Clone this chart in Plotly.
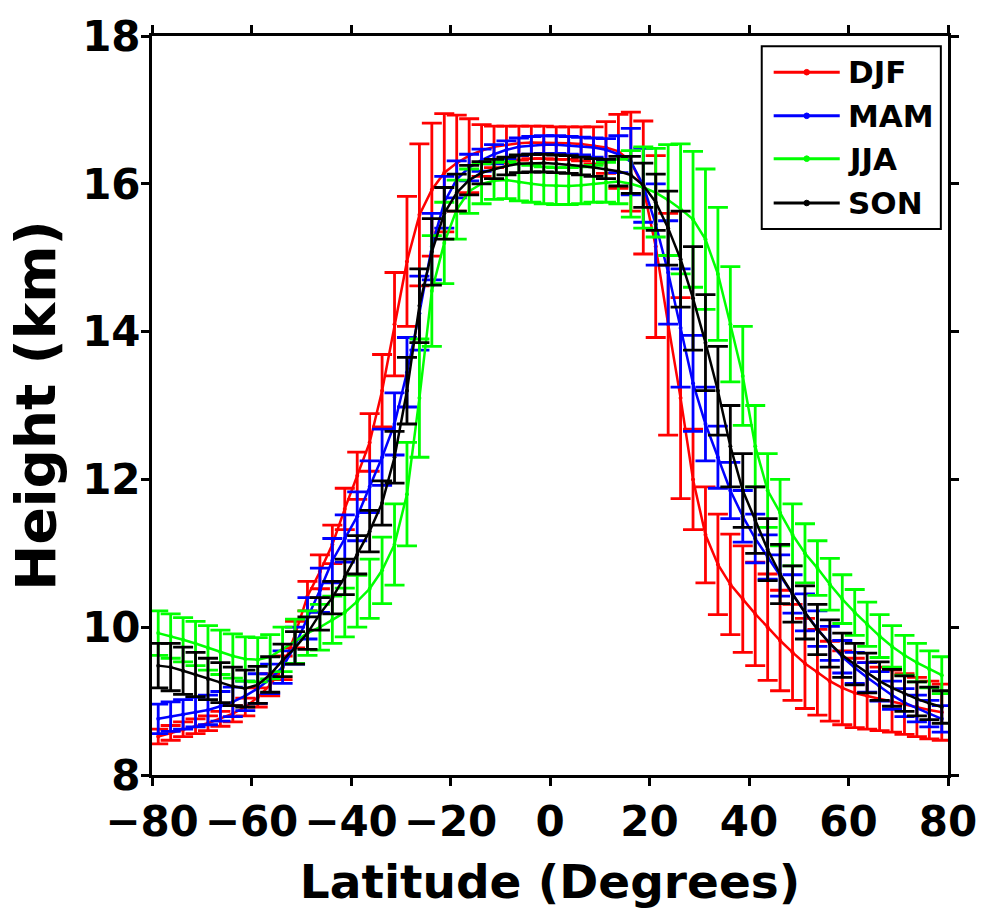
import plotly.graph_objects as go

latitude = [-78.75, -76.25, -73.75, -71.25, -68.75, -66.25, -63.75, -61.25, -58.75, -56.25,
            -53.75, -51.25, -48.75, -46.25, -43.75, -41.25, -38.75, -36.25, -33.75, -31.25,
            -28.75, -26.25, -23.75, -21.25, -18.75, -16.25, -13.75, -11.25, -8.75, -6.25,
            -3.75, -1.25, 1.25, 3.75, 6.25, 8.75, 11.25, 13.75, 16.25, 18.75,
            21.25, 23.75, 26.25, 28.75, 31.25, 33.75, 36.25, 38.75, 41.25, 43.75,
            46.25, 48.75, 51.25, 53.75, 56.25, 58.75, 61.25, 63.75, 66.25, 68.75,
            71.25, 73.75, 76.25, 78.75]

djf = [8.52, 8.57, 8.62, 8.66, 8.70, 8.76, 8.83, 8.92, 9.05, 9.22,
       9.45, 9.90, 10.42, 10.75, 11.12, 11.60, 12.05, 12.50, 13.20, 14.10,
       14.95, 15.58, 15.92, 16.15, 16.28, 16.38, 16.45, 16.50, 16.53, 16.55,
       16.56, 16.56, 16.55, 16.55, 16.54, 16.52, 16.49, 16.44, 16.30, 15.95,
       15.15, 14.10, 13.10, 12.00, 11.25, 10.85, 10.58, 10.38, 10.18, 10.00,
       9.82, 9.66, 9.51, 9.39, 9.27, 9.18, 9.11, 9.07, 9.03, 9.00,
       8.96, 8.92, 8.88, 8.85]
djf_err = [0.10, 0.10, 0.10, 0.10, 0.10, 0.10, 0.11, 0.12, 0.13, 0.15,
           0.16, 0.18, 0.20, 0.23, 0.26, 0.28, 0.32, 0.39, 0.49, 0.70,
           0.88, 0.96, 0.90, 0.80, 0.65, 0.50, 0.35, 0.28, 0.25, 0.23,
           0.22, 0.22, 0.22, 0.22, 0.23, 0.25, 0.35, 0.50, 0.67, 0.90,
           1.23, 1.50, 1.36, 0.68, 0.65, 0.68, 0.68, 0.72, 0.70, 0.72,
           0.68, 0.65, 0.61, 0.58, 0.54, 0.50, 0.47, 0.45, 0.43, 0.42,
           0.41, 0.40, 0.39, 0.38]

mam = [8.76, 8.79, 8.82, 8.85, 8.88, 8.93, 8.99, 9.07, 9.17, 9.30,
       9.46, 9.75, 10.12, 10.50, 10.90, 11.20, 11.50, 11.90, 12.30, 12.75,
       13.45, 14.25, 15.15, 15.75, 16.06, 16.22, 16.32, 16.40, 16.46, 16.50,
       16.52, 16.53, 16.53, 16.52, 16.51, 16.49, 16.46, 16.40, 16.30, 15.98,
       15.45, 14.80, 14.05, 13.30, 12.75, 12.30, 11.85, 11.50, 11.20, 10.95,
       10.70, 10.45, 10.20, 9.98, 9.78, 9.60, 9.45, 9.32, 9.20, 9.08,
       8.98, 8.90, 8.83, 8.76]
mam_err = [0.20, 0.20, 0.20, 0.20, 0.20, 0.20, 0.20, 0.20, 0.20, 0.20,
           0.22, 0.25, 0.28, 0.30, 0.30, 0.32, 0.33, 0.35, 0.38, 0.42,
           0.47, 0.50, 0.45, 0.35, 0.25, 0.18, 0.15, 0.13, 0.12, 0.12,
           0.12, 0.12, 0.12, 0.12, 0.12, 0.13, 0.15, 0.25, 0.45, 0.50,
           0.55, 0.70, 0.80, 0.65, 0.50, 0.42, 0.38, 0.35, 0.33, 0.30,
           0.28, 0.26, 0.25, 0.24, 0.23, 0.22, 0.21, 0.20, 0.20, 0.19,
           0.19, 0.18, 0.18, 0.18]

jja = [9.92, 9.88, 9.83, 9.78, 9.72, 9.66, 9.61, 9.57, 9.56, 9.60,
       9.70, 9.81, 9.92, 10.00, 10.10, 10.20, 10.35, 10.52, 10.77, 11.12,
       11.80, 13.10, 14.55, 15.20, 15.65, 15.90, 16.00, 16.04, 16.05, 16.02,
       16.00, 15.98, 15.97, 15.97, 15.98, 16.00, 16.02, 16.03, 16.00, 15.95,
       15.88, 15.78, 15.66, 15.52, 15.25, 14.78, 14.10, 13.40, 12.45, 11.85,
       11.55, 11.25, 11.00, 10.80, 10.58, 10.38, 10.20, 10.04, 9.88, 9.74,
       9.62, 9.52, 9.43, 9.35]
jja_err = [0.30, 0.30, 0.30, 0.30, 0.30, 0.30, 0.30, 0.30, 0.30, 0.30,
           0.30, 0.30, 0.30, 0.31, 0.32, 0.33, 0.35, 0.40, 0.45, 0.55,
           0.70, 0.80, 0.75, 0.55, 0.40, 0.30, 0.27, 0.25, 0.25, 0.25,
           0.25, 0.25, 0.25, 0.25, 0.25, 0.25, 0.27, 0.30, 0.45, 0.55,
           0.60, 0.75, 0.88, 0.92, 0.95, 0.90, 0.78, 0.67, 0.55, 0.50,
           0.45, 0.42, 0.40, 0.37, 0.35, 0.33, 0.31, 0.30, 0.29, 0.28,
           0.27, 0.26, 0.25, 0.25]

son = [9.48, 9.46, 9.41, 9.36, 9.30, 9.25, 9.20, 9.17, 9.22, 9.36,
       9.55, 9.72, 9.92, 10.18, 10.40, 10.68, 10.98, 11.30, 11.68, 12.30,
       13.20, 14.35, 15.08, 15.60, 15.88, 16.05, 16.15, 16.20, 16.24, 16.27,
       16.28, 16.28, 16.27, 16.26, 16.24, 16.22, 16.20, 16.17, 16.12, 15.98,
       15.75, 15.40, 14.98, 14.45, 13.85, 13.20, 12.45, 11.85, 11.45, 11.05,
       10.72, 10.45, 10.20, 9.97, 9.78, 9.62, 9.50, 9.38, 9.27, 9.18,
       9.10, 9.03, 8.97, 8.92]
son_err = [0.30, 0.32, 0.32, 0.30, 0.28, 0.27, 0.26, 0.25, 0.25, 0.24,
           0.22, 0.22, 0.22, 0.22, 0.22, 0.24, 0.26, 0.28, 0.30, 0.35,
           0.45, 0.50, 0.45, 0.35, 0.25, 0.20, 0.15, 0.13, 0.12, 0.12,
           0.12, 0.12, 0.12, 0.12, 0.12, 0.12, 0.13, 0.20, 0.25, 0.30,
           0.38, 0.50, 0.65, 0.70, 0.65, 0.60, 0.55, 0.50, 0.45, 0.42,
           0.40, 0.38, 0.36, 0.34, 0.32, 0.30, 0.28, 0.27, 0.26, 0.25,
           0.24, 0.23, 0.22, 0.22]

season_names = ["DJF", "MAM", "JJA", "SON"]
season_colors = ["#ff0000", "#0000ff", "#00ff00", "#000000"]

x_tickvals = [-80, -60, -40, -20, 0, 20, 40, 60, 80]
x_ticktext = ["\u221280", "\u221260", "\u221240", "\u221220", "0", "20", "40", "60", "80"]
y_tickvals = [8, 10, 12, 14, 16, 18]
y_ticktext = ["8", "10", "12", "14", "16", "18"]

FONT = "DejaVu Sans, Verdana, sans-serif"

fig = go.Figure()
for name, vals, errs, col in zip(season_names, [djf, mam, jja, son],
                                 [djf_err, mam_err, jja_err, son_err], season_colors):
    fig.add_trace(go.Scatter(
        x=latitude, y=vals, name=name, mode="lines+markers",
        line=dict(color=col, width=2.5),
        marker=dict(color=col, size=4),
        error_y=dict(type="data", array=errs, visible=True, color=col,
                     thickness=2.8, width=10),
        showlegend=False,
    ))

axis_common = dict(
    showline=True, linecolor="black", linewidth=3, mirror="ticks",
    ticks="outside", ticklen=8, tickwidth=3, tickcolor="black",
    showgrid=False, zeroline=False,
    tickfont=dict(family=FONT, size=42, color="black", weight="bold"),
)

# Manual MATLAB-style legend box (paper coordinates of the plot area)
leg_x0, leg_x1, leg_y0, leg_y1 = 0.766, 0.991, 0.739, 0.986
row_y = [0.951, 0.892, 0.834, 0.774]
line_x0, line_x1, text_x, dot_x = 0.781, 0.864, 0.872, 0.8225
dot_rx, dot_ry = 0.0035, 0.0038

shapes = [dict(type="rect", xref="paper", yref="paper",
               x0=leg_x0, x1=leg_x1, y0=leg_y0, y1=leg_y1,
               line=dict(color="black", width=2), fillcolor="white", layer="above")]
annotations = []
for name, col, ry in zip(season_names, season_colors, row_y):
    shapes.append(dict(type="line", xref="paper", yref="paper",
                       x0=line_x0, x1=line_x1, y0=ry, y1=ry,
                       line=dict(color=col, width=3), layer="above"))
    shapes.append(dict(type="circle", xref="paper", yref="paper",
                       x0=dot_x - dot_rx, x1=dot_x + dot_rx, y0=ry - dot_ry, y1=ry + dot_ry,
                       line=dict(color=col, width=1), fillcolor=col, layer="above"))
    annotations.append(dict(xref="paper", yref="paper", x=text_x, y=ry,
                            xanchor="left", yanchor="middle", showarrow=False,
                            text=name,
                            font=dict(family=FONT, size=31, color="black", weight="bold")))

fig.update_layout(
    width=989, height=911,
    paper_bgcolor="white", plot_bgcolor="white",
    margin=dict(l=152, r=37, t=35, b=136),
    xaxis=dict(range=[-80, 80], tickvals=x_tickvals, ticktext=x_ticktext,
               title=dict(text="Latitude (Degrees)", standoff=20,
                          font=dict(family=FONT, size=47, color="black", weight="bold")),
               **axis_common),
    yaxis=dict(range=[8, 18], tickvals=y_tickvals, ticktext=y_ticktext,
               ticklabelstandoff=-8,
               title=dict(text="Height (km)", standoff=9,
                          font=dict(family=FONT, size=55, color="black", weight="bold")),
               **axis_common),
    shapes=shapes,
    annotations=annotations,
    showlegend=False,
)

fig.write_html("out.html")
